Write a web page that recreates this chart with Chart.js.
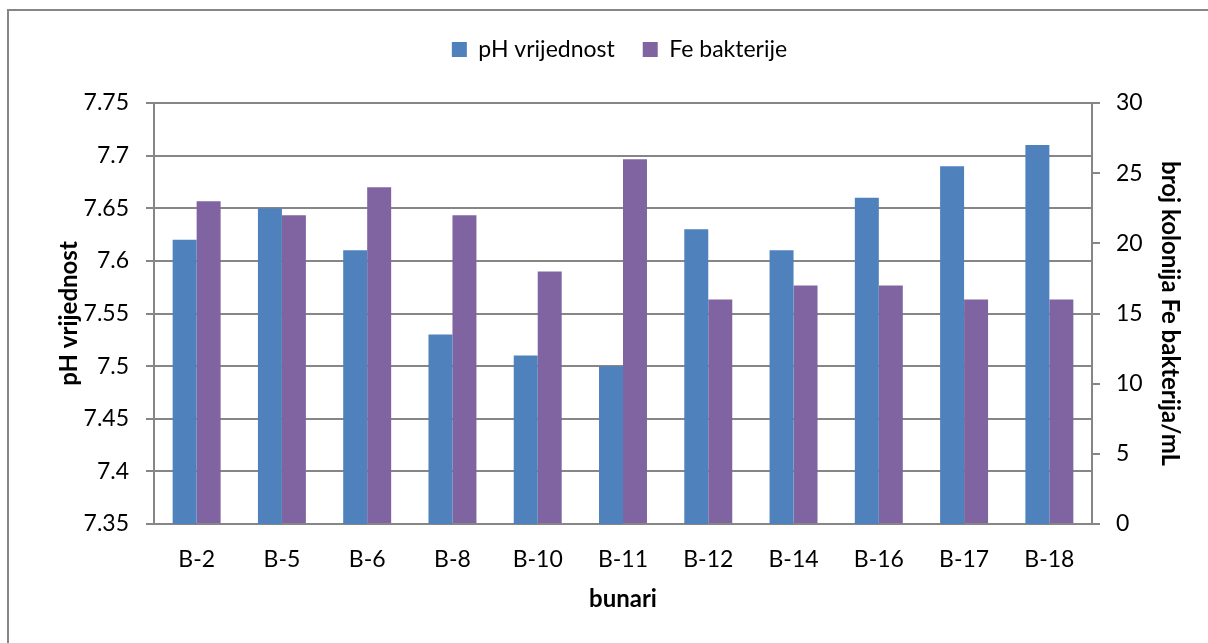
<!DOCTYPE html>
<html>
<head>
<meta charset="utf-8">
<script src="https://cdn.jsdelivr.net/npm/chart.js@4"></script>
<style>
    body { margin: 0; background: #fff; overflow: hidden; }
    #wrap { position: relative; width: 1208px; height: 643px; }
    #frame { position: absolute; left: 7px; top: 9px; width: 1400px; height: 800px;
             border-left: 2px solid #868686; border-top: 2px solid #868686; }
    canvas { position: absolute; left: 0; top: 0; }
</style>
</head>
<body>
<div id="wrap">
    <div id="frame"></div>
    <canvas id="myChart" width="1208" height="643"></canvas>
</div>
<script>
const categories = ['B-2', 'B-5', 'B-6', 'B-8', 'B-10', 'B-11', 'B-12', 'B-14', 'B-16', 'B-17', 'B-18'];
const phValues = [7.62, 7.65, 7.61, 7.53, 7.51, 7.50, 7.63, 7.61, 7.66, 7.69, 7.71];
const feValues = [23, 22, 24, 22, 18, 26, 16, 17, 17, 16, 16];

const gridColor = '#868686';
const fontSize = 23;
const titleFont = {size: 24, weight: 'bold'};

Chart.defaults.font.family = 'Lato, "Open Sans", sans-serif';
Chart.defaults.font.size = fontSize;
Chart.defaults.color = '#000';

// legend needs some extra room below it before the plot starts
const legendGap = {
    id: 'legendGap',
    beforeUpdate(chart) {
        const lg = chart.legend;
        if (lg && !lg._gapAdded) {
            const fit = lg.fit;
            lg.fit = function () {
                fit.call(this);
                this.height += 32;
            };
            lg._gapAdded = true;
        }
    }
};

const ctx = document.getElementById('myChart').getContext('2d');

const myChart = new Chart(ctx, {
    type: 'bar',
    data: {
        labels: categories,
        datasets: [{
            label: 'pH vrijednost',
            data: phValues,
            backgroundColor: '#4F81BD',
            yAxisID: 'y'
        }, {
            label: 'Fe bakterije',
            data: feValues,
            backgroundColor: '#8064A2',
            yAxisID: 'y1'
        }]
    },
    plugins: [legendGap],
    options: {
        responsive: false,
        animation: false,
        categoryPercentage: 0.5625,
        barPercentage: 1,
        layout: {
            padding: {top: 10, left: 51, right: 20, bottom: 25}
        },
        plugins: {
            legend: {
                position: 'top',
                labels: {
                    boxWidth: 15,
                    boxHeight: 15,
                    padding: 28
                }
            },
            tooltip: {enabled: false}
        },
        scales: {
            x: {
                offset: true,
                grid: {display: false},
                border: {color: gridColor, width: 2},
                ticks: {padding: 14},
                title: {
                    display: true,
                    text: 'bunari',
                    font: titleFont
                },
                afterFit: function (scale) {
                    scale.height = 94;
                }
            },
            y: {
                position: 'left',
                min: 7.35,
                max: 7.75,
                grid: {color: gridColor, lineWidth: 2, tickLength: 8},
                border: {color: gridColor, width: 2},
                ticks: {
                    stepSize: 0.05,
                    padding: 17,
                    callback: function (value) {
                        return String(Number(value.toFixed(2)));
                    }
                },
                title: {
                    display: true,
                    text: 'pH vrijednost',
                    font: titleFont
                },
                afterFit: function (scale) {
                    scale.width = 103;
                }
            },
            y1: {
                position: 'right',
                min: 0,
                max: 30,
                grid: {drawOnChartArea: false, color: gridColor, lineWidth: 2, tickLength: 8},
                border: {color: gridColor, width: 2},
                ticks: {stepSize: 5, padding: 16},
                title: {
                    display: true,
                    text: 'broj kolonija Fe bakterija/mL',
                    font: titleFont
                },
                afterFit: function (scale) {
                    scale.width = 96;
                }
            }
        }
    }
});
</script>
</body>
</html>
